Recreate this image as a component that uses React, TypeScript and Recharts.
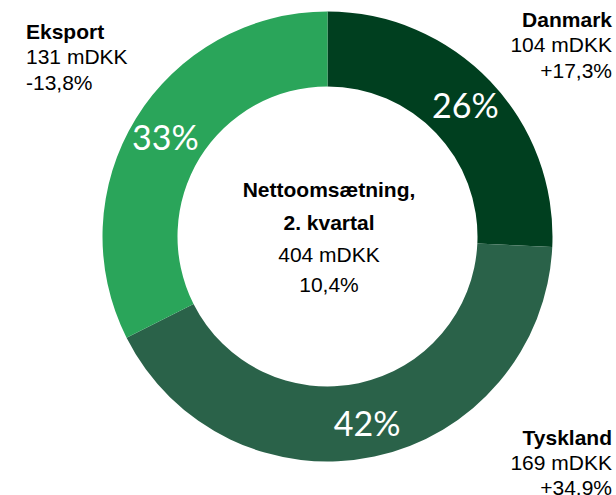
import React from 'react';
import { PieChart, Pie, Cell } from 'recharts';

const regions = ['Danmark', 'Tyskland', 'Eksport'];
const revenue = [104, 169, 131];
const shareLabels = ['26%', '42%', '33%'];
const growth = ['+17,3%', '+34.9%', '-13,8%'];
const colors = ['#003f1f', '#2a6249', '#2aa55a'];
const centerTitle = ['Nettoomsætning,', '2. kvartal'];
const centerTotal = '404 mDKK';
const centerGrowth = '10,4%';
const unit = 'mDKK';

const data = regions.map((name, i) => ({ name, value: revenue[i], label: shareLabels[i] }));

const RAD = Math.PI / 180;
const renderLabel = (props: any) => {
  const { cx, cy, midAngle, innerRadius, outerRadius, index } = props;
  const r = (innerRadius + outerRadius) / 2 + 3;
  const x = cx + r * Math.cos(-midAngle * RAD);
  const y = cy + r * Math.sin(-midAngle * RAD);
  return (
    <text x={x} y={y} fill="#ffffff" textAnchor="middle" dominantBaseline="central"
      style={{ fontFamily: 'Lato, sans-serif', fontWeight: 400, fontSize: 34 }}>
      {shareLabels[index]}
    </text>
  );
};

const font = "'Liberation Sans', Arial, sans-serif";

export default function App() {
  return (
    <div style={{ position: 'absolute', left: 0, top: 0, width: 616, height: 495, background: '#fff' }}>
      <PieChart width={616} height={495} margin={{ top: 0, right: 0, bottom: 0, left: 0 }}>
        <Pie data={data} dataKey="value" nameKey="name" cx={327.5} cy={236.5}
          innerRadius={150} outerRadius={225} startAngle={90} endAngle={-270}
          stroke="none" isAnimationActive={false} label={renderLabel} labelLine={false}>
          {data.map((d, i) => <Cell key={d.name} fill={colors[i]} />)}
        </Pie>
      </PieChart>
      <svg width={616} height={495} style={{ position: 'absolute', left: 0, top: 0, pointerEvents: 'none' }}>
        <g style={{ fontFamily: font, fontSize: 21 }} fill="#000">
          <text x={26} y={39}><tspan fontWeight="bold">{regions[2]}</tspan></text>
          <text x={26} y={64}>{revenue[2]} {unit}</text>
          <text x={26} y={89.5}>{growth[2]}</text>

          <text x={612} y={27} textAnchor="end" fontWeight="bold">{regions[0]}</text>
          <text x={612} y={52} textAnchor="end">{revenue[0]} {unit}</text>
          <text x={612} y={77.5} textAnchor="end">{growth[0]}</text>

          <text x={612} y={444.5} textAnchor="end" fontWeight="bold">{regions[1]}</text>
          <text x={612} y={469.5} textAnchor="end">{revenue[1]} {unit}</text>
          <text x={612} y={494.5} textAnchor="end">{growth[1]}</text>

          <text x={329} y={197} textAnchor="middle" fontWeight="bold">{centerTitle[0]}</text>
          <text x={329} y={230} textAnchor="middle" fontWeight="bold">{centerTitle[1]}</text>
          <text x={329} y={262} textAnchor="middle">{centerTotal}</text>
          <text x={329} y={292} textAnchor="middle">{centerGrowth}</text>
        </g>
      </svg>
    </div>
  );
}
